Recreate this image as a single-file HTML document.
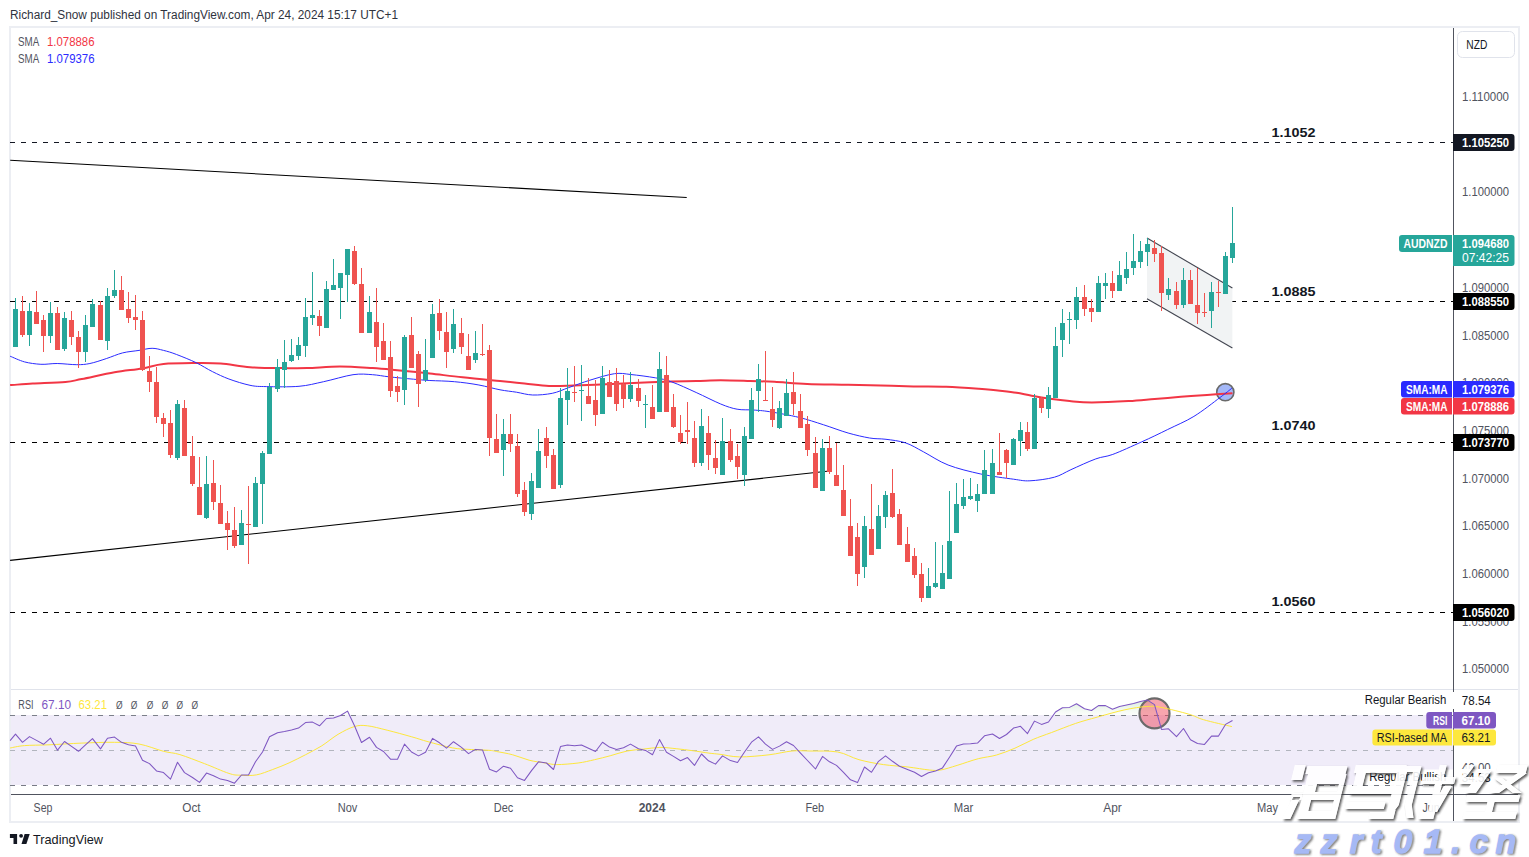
<!DOCTYPE html><html><head><meta charset="utf-8"><style>html,body{margin:0;padding:0;background:#fff;}body{width:1529px;height:857px;overflow:hidden;position:relative;}svg{position:absolute;left:0;top:0;} text{font-family:"Liberation Sans", sans-serif;}</style></head><body><svg width="1529" height="857" viewBox="0 0 1529 857"><text x="10" y="19" font-size="12" fill="#2f333e" textLength="388" lengthAdjust="spacingAndGlyphs">Richard_Snow published on TradingView.com, Apr 24, 2024 15:17 UTC+1</text><rect x="10" y="27" width="1509" height="795" fill="none" stroke="#eceef3" stroke-width="2"/><rect x="11" y="715" width="1442" height="70" fill="#f0ecf9"/><rect x="11" y="689" width="1507" height="1" fill="#e0e3eb"/><line x1="10" y1="142.5" x2="1453" y2="142.5" stroke="#131722" stroke-width="1" stroke-dasharray="5 6" shape-rendering="crispEdges"/><line x1="10" y1="301.5" x2="1453" y2="301.5" stroke="#000" stroke-width="1" stroke-dasharray="5 6" shape-rendering="crispEdges"/><line x1="10" y1="442.5" x2="1453" y2="442.5" stroke="#000" stroke-width="1" stroke-dasharray="5 6" shape-rendering="crispEdges"/><line x1="10" y1="612.5" x2="1453" y2="612.5" stroke="#000" stroke-width="1" stroke-dasharray="5 6" shape-rendering="crispEdges"/><line x1="10.2" y1="160.3" x2="686.7" y2="197.5" stroke="#000" stroke-width="1.1"/><line x1="10.1" y1="560.4" x2="827.1" y2="471.2" stroke="#000" stroke-width="1.1"/><path d="M1147,238.1 L1232.4,287.9 L1232.4,348.1 L1147,298.8 Z" fill="#f1f3f4"/><circle cx="1225.3" cy="392.2" r="8.6" fill="rgba(53,97,239,0.45)" stroke="#6a6a6a" stroke-width="1.6"/><path d="M10.1,385.1 C13.9,384.9 23.5,384.1 32.7,383.6 C41.9,383.1 57.2,382.8 65.4,382.0 C73.6,381.2 73.6,380.6 81.8,379.0 C90.0,377.4 104.4,374.0 114.5,372.2 C124.6,370.4 134.0,369.8 142.2,368.4 C150.4,367.0 154.5,364.9 163.5,364.0 C172.5,363.1 186.7,363.1 196.2,363.0 C205.7,362.9 211.7,362.8 220.7,363.5 C229.7,364.2 239.7,366.4 250.0,367.2 C260.3,368.0 273.2,368.0 282.7,368.1 C292.2,368.2 297.7,368.4 307.2,368.1 C316.7,367.8 329.0,366.5 339.9,366.5 C350.8,366.5 363.1,367.5 372.6,368.1 C382.2,368.7 387.6,369.3 397.2,370.2 C406.8,371.1 419.0,372.3 429.9,373.5 C440.8,374.7 450.9,376.1 462.6,377.3 C474.3,378.6 489.7,380.0 500.0,381.0 C510.3,382.0 516.3,382.7 524.5,383.5 C532.7,384.3 540.8,385.6 549.0,386.0 C557.2,386.4 564.1,385.9 573.6,385.6 C583.1,385.3 595.4,384.8 606.3,384.3 C617.2,383.8 628.1,383.2 639.0,382.7 C649.9,382.2 662.2,381.7 671.7,381.4 C681.2,381.1 688.0,381.3 696.2,381.1 C704.4,380.9 711.7,380.2 720.7,380.2 C729.7,380.2 741.0,380.7 750.0,381.0 C759.0,381.3 765.0,381.3 774.5,381.8 C784.0,382.3 794.9,383.4 807.2,383.9 C819.5,384.4 835.8,384.4 848.1,384.7 C860.4,385.0 869.9,385.2 880.8,385.5 C891.7,385.8 902.6,386.2 913.5,386.4 C924.4,386.6 935.3,386.3 946.2,386.7 C957.1,387.1 969.9,388.1 978.9,388.8 C987.9,389.5 993.7,390.0 1000.0,390.7 C1006.3,391.4 1011.3,391.9 1016.6,392.8 C1021.9,393.7 1026.1,394.8 1031.7,395.8 C1037.3,396.8 1043.7,397.9 1050.0,398.8 C1056.3,399.7 1062.6,400.5 1069.6,401.1 C1076.6,401.7 1082.1,402.4 1091.9,402.4 C1101.7,402.4 1118.0,401.7 1128.5,401.1 C1139.0,400.5 1145.9,399.7 1154.6,399.0 C1163.3,398.3 1172.1,397.5 1180.8,396.8 C1189.5,396.1 1198.4,395.5 1207.0,394.9 C1215.6,394.3 1228.2,393.6 1232.5,393.3" fill="none" stroke="#f23645" stroke-width="2" stroke-linejoin="round"/><path d="M10.1,356.2 C12.5,357.1 19.4,360.5 24.5,361.9 C29.6,363.2 35.4,364.0 40.9,364.3 C46.4,364.6 51.2,363.4 57.2,363.5 C63.2,363.6 71.3,364.7 76.8,364.7 C82.2,364.7 85.0,364.5 89.9,363.5 C94.8,362.5 100.8,360.4 106.3,358.6 C111.8,356.8 117.1,354.3 122.6,352.9 C128.0,351.5 134.1,351.2 139.0,350.4 C143.9,349.6 148.0,348.3 152.1,348.3 C156.2,348.3 159.4,349.4 163.5,350.4 C167.6,351.4 171.2,352.4 176.6,354.5 C182.0,356.6 190.2,359.8 196.2,362.7 C202.2,365.6 207.1,369.0 212.6,371.7 C218.1,374.4 222.7,376.7 228.9,379.0 C235.1,381.3 243.8,384.0 250.0,385.3 C256.2,386.6 258.2,386.4 266.4,386.6 C274.6,386.8 289.5,387.1 299.0,386.3 C308.5,385.5 314.6,383.6 323.6,381.7 C332.6,379.8 344.8,375.9 353.0,374.7 C361.2,373.5 366.6,374.3 372.6,374.7 C378.6,375.1 382.2,376.1 389.0,376.8 C395.8,377.6 406.7,378.6 413.5,379.2 C420.3,379.8 423.1,380.1 429.9,380.5 C436.7,380.9 446.2,380.9 454.4,381.7 C462.6,382.4 471.3,383.6 478.9,385.0 C486.5,386.4 493.8,388.6 500.0,389.8 C506.2,391.0 510.9,391.3 516.4,392.2 C521.9,393.1 526.7,394.8 532.7,395.0 C538.7,395.2 546.3,394.5 552.3,393.3 C558.3,392.1 562.4,389.8 568.7,387.6 C575.0,385.4 582.3,382.5 589.9,380.2 C597.5,377.9 607.7,374.6 614.5,373.7 C621.3,372.8 624.0,373.8 630.8,374.5 C637.6,375.2 648.5,376.6 655.3,377.8 C662.1,379.0 664.9,379.4 671.7,381.9 C678.5,384.3 688.0,388.8 696.2,392.5 C704.4,396.2 713.9,401.2 720.7,404.0 C727.5,406.8 731.7,408.2 737.1,409.2 C742.5,410.2 747.9,409.6 753.3,410.0 C758.7,410.4 762.0,410.5 769.6,411.7 C777.2,412.9 790.0,415.2 799.0,417.4 C808.0,419.6 815.4,422.2 823.6,424.8 C831.8,427.4 840.4,430.8 848.1,433.0 C855.8,435.2 863.3,436.9 869.6,438.0 C875.9,439.1 880.0,438.5 886.0,439.3 C892.0,440.1 899.3,440.8 905.6,442.9 C911.9,445.0 916.5,448.2 923.6,451.9 C930.7,455.6 938.6,461.3 948.1,465.0 C957.6,468.7 969.9,471.6 980.8,474.0 C991.7,476.4 1005.3,478.1 1013.5,479.2 C1021.7,480.3 1023.1,481.1 1029.9,480.8 C1036.7,480.5 1047.6,479.1 1054.4,477.2 C1061.2,475.3 1064.0,472.8 1070.9,469.7 C1077.8,466.6 1088.8,461.4 1095.8,458.9 C1102.8,456.3 1105.2,457.2 1112.8,454.4 C1120.4,451.6 1132.4,446.0 1141.6,441.9 C1150.8,437.8 1159.0,433.8 1167.7,429.5 C1176.4,425.2 1185.2,421.7 1193.9,416.4 C1202.6,411.1 1213.7,402.2 1220.0,397.5 C1226.3,392.8 1229.8,389.8 1231.8,388.3" fill="none" stroke="#2b2bff" stroke-width="1" stroke-linejoin="round"/><line x1="1147" y1="238.1" x2="1232.4" y2="287.9" stroke="#434651" stroke-width="1.1"/><line x1="1147" y1="298.8" x2="1232.4" y2="348.1" stroke="#434651" stroke-width="1.1"/><path fill="#26a69a" d="M15,298h1v11h-1zM13,309h5v38h-5zM29,303h1v8h-1zM29,335h1v11h-1zM27,311h5v24h-5zM50,302h1v11h-1zM50,336h1v7h-1zM48,313h5v23h-5zM64,312h1v6h-1zM64,349h1v2h-1zM62,318h5v31h-5zM85,315h1v10h-1zM85,352h1v10h-1zM83,325h5v27h-5zM92,299h1v5h-1zM90,304h5v23h-5zM107,288h1v8h-1zM107,341h1v9h-1zM105,296h5v45h-5zM114,270h1v20h-1zM114,296h1v2h-1zM112,290h5v6h-5zM177,400h1v4h-1zM177,458h1v2h-1zM175,404h5v54h-5zM206,456h1v28h-1zM206,518h1v1h-1zM204,484h5v34h-5zM241,510h1v13h-1zM239,523h5v22h-5zM255,477h1v6h-1zM253,483h5v44h-5zM262,451h1v2h-1zM262,484h1v40h-1zM260,453h5v31h-5zM269,383h1v4h-1zM267,387h5v67h-5zM277,359h1v8h-1zM277,389h1v3h-1zM275,367h5v22h-5zM284,340h1v22h-1zM284,370h1v18h-1zM282,362h5v8h-5zM291,339h1v16h-1zM291,361h1v1h-1zM289,355h5v6h-5zM298,337h1v8h-1zM298,356h1v4h-1zM296,345h5v11h-5zM305,298h1v19h-1zM305,346h1v11h-1zM303,317h5v29h-5zM312,272h1v43h-1zM312,318h1v7h-1zM310,315h5v3h-5zM326,281h1v8h-1zM324,289h5v39h-5zM333,259h1v26h-1zM331,285h5v5h-5zM340,288h1v31h-1zM338,273h5v15h-5zM347,275h1v27h-1zM345,249h5v26h-5zM369,296h1v16h-1zM367,312h5v21h-5zM404,335h1v2h-1zM404,390h1v15h-1zM402,337h5v53h-5zM425,339h1v31h-1zM425,380h1v2h-1zM423,370h5v10h-5zM432,304h1v10h-1zM430,314h5v44h-5zM453,309h1v15h-1zM453,349h1v4h-1zM451,324h5v25h-5zM475,331h1v22h-1zM475,360h1v3h-1zM473,353h5v7h-5zM503,419h1v15h-1zM503,450h1v26h-1zM501,434h5v16h-5zM531,473h1v8h-1zM531,514h1v6h-1zM529,481h5v33h-5zM538,429h1v22h-1zM536,451h5v37h-5zM560,388h1v10h-1zM560,485h1v3h-1zM558,398h5v87h-5zM567,368h1v23h-1zM567,400h1v25h-1zM565,391h5v9h-5zM581,365h1v25h-1zM581,391h1v30h-1zM579,390h5v1h-5zM602,366h1v12h-1zM600,378h5v36h-5zM630,372h1v13h-1zM630,399h1v3h-1zM628,385h5v14h-5zM645,395h1v9h-1zM645,405h1v23h-1zM643,404h5v1h-5zM659,352h1v17h-1zM657,369h5v43h-5zM701,409h1v17h-1zM701,463h1v3h-1zM699,426h5v37h-5zM722,418h1v23h-1zM720,441h5v34h-5zM744,427h1v9h-1zM744,475h1v11h-1zM742,436h5v39h-5zM751,388h1v12h-1zM749,400h5v39h-5zM758,364h1v15h-1zM758,391h1v21h-1zM756,379h5v12h-5zM779,401h1v7h-1zM779,428h1v1h-1zM777,408h5v20h-5zM786,379h1v14h-1zM784,393h5v23h-5zM822,439h1v9h-1zM820,448h5v43h-5zM864,516h1v10h-1zM864,567h1v11h-1zM862,526h5v41h-5zM878,505h1v11h-1zM876,516h5v33h-5zM885,491h1v4h-1zM885,517h1v11h-1zM883,495h5v22h-5zM928,568h1v18h-1zM926,586h5v12h-5zM935,542h1v41h-1zM935,587h1v1h-1zM933,583h5v4h-5zM942,545h1v28h-1zM940,573h5v16h-5zM949,491h1v50h-1zM947,541h5v38h-5zM956,483h1v21h-1zM954,504h5v29h-5zM963,479h1v18h-1zM963,506h1v3h-1zM961,497h5v9h-5zM970,478h1v18h-1zM970,499h1v1h-1zM968,496h5v3h-5zM977,484h1v10h-1zM977,501h1v11h-1zM975,494h5v7h-5zM984,450h1v20h-1zM982,470h5v24h-5zM992,449h1v14h-1zM990,463h5v31h-5zM1013,438h1v1h-1zM1011,439h5v26h-5zM1020,422h1v8h-1zM1020,441h1v15h-1zM1018,430h5v11h-5zM1034,394h1v4h-1zM1032,398h5v51h-5zM1048,387h1v8h-1zM1048,409h1v9h-1zM1046,395h5v14h-5zM1055,327h1v19h-1zM1053,346h5v52h-5zM1062,309h1v14h-1zM1062,340h1v17h-1zM1060,323h5v17h-5zM1069,312h1v7h-1zM1069,320h1v24h-1zM1067,319h5v1h-5zM1076,287h1v10h-1zM1076,320h1v9h-1zM1074,297h5v23h-5zM1098,276h1v7h-1zM1096,283h5v29h-5zM1105,273h1v10h-1zM1105,286h1v13h-1zM1103,283h5v3h-5zM1119,261h1v14h-1zM1117,275h5v16h-5zM1126,252h1v17h-1zM1126,278h1v6h-1zM1124,269h5v9h-5zM1133,234h1v27h-1zM1133,268h1v7h-1zM1131,261h5v7h-5zM1140,241h1v10h-1zM1140,262h1v6h-1zM1138,251h5v11h-5zM1147,238h1v6h-1zM1147,252h1v14h-1zM1145,244h5v8h-5zM1168,278h1v11h-1zM1168,295h1v5h-1zM1166,289h5v6h-5zM1183,268h1v12h-1zM1183,305h1v3h-1zM1181,280h5v25h-5zM1211,282h1v10h-1zM1211,311h1v17h-1zM1209,292h5v19h-5zM1225,252h1v4h-1zM1223,256h5v38h-5zM1232,207h1v36h-1zM1232,258h1v5h-1zM1230,243h5v15h-5z"/><path fill="#ef5350" d="M22,296h1v15h-1zM22,335h1v2h-1zM20,311h5v24h-5zM36,291h1v21h-1zM34,312h5v12h-5zM43,315h1v5h-1zM43,336h1v16h-1zM41,320h5v16h-5zM57,307h1v6h-1zM55,313h5v37h-5zM71,311h1v9h-1zM71,337h1v8h-1zM69,320h5v17h-5zM78,331h1v6h-1zM78,352h1v16h-1zM76,337h5v15h-5zM100,301h1v4h-1zM98,305h5v35h-5zM121,276h1v14h-1zM119,290h5v20h-5zM128,292h1v17h-1zM128,318h1v5h-1zM126,309h5v9h-5zM135,295h1v22h-1zM135,320h1v10h-1zM133,317h5v3h-5zM142,311h1v9h-1zM142,370h1v1h-1zM140,320h5v50h-5zM149,356h1v15h-1zM149,382h1v10h-1zM147,371h5v11h-5zM156,367h1v15h-1zM156,417h1v6h-1zM154,382h5v35h-5zM163,413h1v5h-1zM163,424h1v13h-1zM161,418h5v6h-5zM170,410h1v13h-1zM170,455h1v3h-1zM168,423h5v32h-5zM184,400h1v8h-1zM182,408h5v48h-5zM192,436h1v20h-1zM192,484h1v2h-1zM190,456h5v28h-5zM199,457h1v30h-1zM197,487h5v28h-5zM213,460h1v23h-1zM213,502h1v8h-1zM211,483h5v19h-5zM220,485h1v18h-1zM218,503h5v21h-5zM227,511h1v12h-1zM227,530h1v20h-1zM225,523h5v7h-5zM234,507h1v23h-1zM234,546h1v2h-1zM232,530h5v16h-5zM248,486h1v38h-1zM248,525h1v39h-1zM246,524h5v1h-5zM319,310h1v6h-1zM319,326h1v10h-1zM317,316h5v10h-5zM354,246h1v5h-1zM354,284h1v1h-1zM352,251h5v33h-5zM361,268h1v16h-1zM359,284h5v49h-5zM376,288h1v34h-1zM376,347h1v15h-1zM374,322h5v25h-5zM383,323h1v18h-1zM381,341h5v19h-5zM390,341h1v16h-1zM390,391h1v6h-1zM388,357h5v34h-5zM397,376h1v10h-1zM397,392h1v10h-1zM395,386h5v6h-5zM411,317h1v18h-1zM409,335h5v33h-5zM418,351h1v3h-1zM418,384h1v23h-1zM416,354h5v30h-5zM439,299h1v14h-1zM439,331h1v9h-1zM437,313h5v18h-5zM446,312h1v20h-1zM446,352h1v16h-1zM444,332h5v20h-5zM461,318h1v15h-1zM461,347h1v7h-1zM459,333h5v14h-5zM468,334h1v22h-1zM466,356h5v14h-5zM482,324h1v30h-1zM482,355h1v1h-1zM480,354h5v1h-5zM489,345h1v5h-1zM489,438h1v18h-1zM487,350h5v88h-5zM496,414h1v25h-1zM494,439h5v14h-5zM510,414h1v20h-1zM510,444h1v8h-1zM508,434h5v10h-5zM517,434h1v12h-1zM517,494h1v3h-1zM515,446h5v48h-5zM524,482h1v8h-1zM524,512h1v4h-1zM522,490h5v22h-5zM546,427h1v11h-1zM546,456h1v12h-1zM544,438h5v18h-5zM553,449h1v6h-1zM551,455h5v34h-5zM574,366h1v26h-1zM574,393h1v9h-1zM572,392h5v1h-5zM588,378h1v18h-1zM586,396h5v8h-5zM595,380h1v20h-1zM595,415h1v11h-1zM593,400h5v15h-5zM609,370h1v12h-1zM607,382h5v15h-5zM616,368h1v13h-1zM616,404h1v7h-1zM614,381h5v23h-5zM623,375h1v9h-1zM623,399h1v9h-1zM621,384h5v15h-5zM638,379h1v9h-1zM638,401h1v6h-1zM636,388h5v13h-5zM652,385h1v22h-1zM650,407h5v12h-5zM666,356h1v19h-1zM664,375h5v37h-5zM673,394h1v13h-1zM673,427h1v1h-1zM671,407h5v20h-5zM680,415h1v18h-1zM680,442h1v2h-1zM678,433h5v9h-5zM687,402h1v28h-1zM687,432h1v12h-1zM685,430h5v2h-5zM694,421h1v17h-1zM694,463h1v4h-1zM692,438h5v25h-5zM708,416h1v17h-1zM708,455h1v15h-1zM706,433h5v22h-5zM715,440h1v18h-1zM715,468h1v6h-1zM713,458h5v10h-5zM730,429h1v12h-1zM730,460h1v2h-1zM728,441h5v19h-5zM737,444h1v12h-1zM737,467h1v12h-1zM735,456h5v11h-5zM765,351h1v49h-1zM763,400h5v1h-5zM772,387h1v22h-1zM772,420h1v7h-1zM770,409h5v11h-5zM793,372h1v20h-1zM793,404h1v11h-1zM791,392h5v12h-5zM800,394h1v17h-1zM798,411h5v17h-5zM807,416h1v8h-1zM807,450h1v6h-1zM805,424h5v26h-5zM815,437h1v16h-1zM813,453h5v35h-5zM829,436h1v12h-1zM829,472h1v2h-1zM827,448h5v24h-5zM836,443h1v32h-1zM834,475h5v11h-5zM843,465h1v25h-1zM841,490h5v26h-5zM850,499h1v27h-1zM848,526h5v30h-5zM857,523h1v14h-1zM857,574h1v12h-1zM855,537h5v37h-5zM871,484h1v45h-1zM869,529h5v26h-5zM892,469h1v24h-1zM892,517h1v1h-1zM890,493h5v24h-5zM899,509h1v5h-1zM897,514h5v31h-5zM907,527h1v17h-1zM905,544h5v18h-5zM914,548h1v8h-1zM914,575h1v3h-1zM912,556h5v19h-5zM921,563h1v11h-1zM921,598h1v4h-1zM919,574h5v24h-5zM999,433h1v39h-1zM997,472h5v3h-5zM1006,449h1v1h-1zM1006,463h1v15h-1zM1004,450h5v13h-5zM1027,422h1v10h-1zM1027,449h1v2h-1zM1025,432h5v17h-5zM1041,397h1v1h-1zM1041,408h1v5h-1zM1039,398h5v10h-5zM1084,285h1v12h-1zM1084,309h1v7h-1zM1082,297h5v12h-5zM1091,299h1v9h-1zM1091,312h1v10h-1zM1089,308h5v4h-5zM1112,271h1v12h-1zM1112,291h1v7h-1zM1110,283h5v8h-5zM1154,240h1v8h-1zM1154,254h1v8h-1zM1152,248h5v6h-5zM1161,246h1v7h-1zM1161,293h1v18h-1zM1159,253h5v40h-5zM1176,282h1v9h-1zM1176,305h1v4h-1zM1174,291h5v14h-5zM1190,270h1v10h-1zM1188,280h5v24h-5zM1197,268h1v37h-1zM1197,313h1v11h-1zM1195,305h5v8h-5zM1204,293h1v19h-1zM1204,313h1v4h-1zM1202,312h5v1h-5zM1218,281h1v11h-1zM1218,293h1v14h-1zM1216,292h5v1h-5z"/><text x="1271.5" y="137" font-size="13.5" font-weight="bold" fill="#131722" textLength="44" lengthAdjust="spacingAndGlyphs">1.1052</text><text x="1271.5" y="296" font-size="13.5" font-weight="bold" fill="#131722" textLength="44" lengthAdjust="spacingAndGlyphs">1.0885</text><text x="1271.5" y="430" font-size="13.5" font-weight="bold" fill="#131722" textLength="44" lengthAdjust="spacingAndGlyphs">1.0740</text><text x="1271.5" y="606" font-size="13.5" font-weight="bold" fill="#131722" textLength="44" lengthAdjust="spacingAndGlyphs">1.0560</text><text x="18" y="46" font-size="12.5" fill="#50535e" textLength="21.2" lengthAdjust="spacingAndGlyphs">SMA</text><text x="47" y="46" font-size="12.5" fill="#f23645" textLength="47.5" lengthAdjust="spacingAndGlyphs">1.078886</text><text x="18" y="62.5" font-size="12.5" fill="#50535e" textLength="21.2" lengthAdjust="spacingAndGlyphs">SMA</text><text x="47" y="62.5" font-size="12.5" fill="#2b2bff" textLength="47.5" lengthAdjust="spacingAndGlyphs">1.079376</text><line x1="10" y1="715.5" x2="1453" y2="715.5" stroke="#787b86" stroke-width="1" stroke-dasharray="5 6"/><line x1="10" y1="750.5" x2="1453" y2="750.5" stroke="#b2b5be" stroke-width="1" stroke-dasharray="5 6"/><line x1="10" y1="785.5" x2="1453" y2="785.5" stroke="#787b86" stroke-width="1" stroke-dasharray="5 6"/><defs><linearGradient id="obg" gradientUnits="userSpaceOnUse" x1="0" y1="700" x2="0" y2="715.5"><stop offset="0" stop-color="#c8e6c9" stop-opacity="0.75"/><stop offset="1" stop-color="#e8f5e9" stop-opacity="0.15"/></linearGradient><clipPath id="obc"><rect x="11" y="695" width="1442" height="20.5"/></clipPath></defs><path d="M10.1,740.7 L15.5,734.1 L22.5,742.3 L29.5,736.6 L36.5,740.4 L43.5,744.3 L50.5,738.2 L57.5,750.2 L64.5,741.5 L71.5,746.4 L78.5,751.3 L85.5,744.8 L92.5,738.6 L100.5,748.9 L107.5,738.2 L114.5,737.1 L121.5,742.3 L128.5,744.8 L135.5,745.9 L142.5,760.3 L149.5,763.6 L156.5,770.9 L163.5,772.6 L170.5,779.1 L177.5,762.3 L184.5,772.6 L192.5,777.5 L199.5,782.4 L206.5,773.1 L213.5,775.8 L220.5,779.1 L227.5,780.4 L234.5,783.2 L241.5,775.0 L248.5,775.0 L255.5,761.8 L262.5,752.0 L269.5,736.8 L277.5,732.7 L284.5,731.4 L291.5,729.9 L298.5,728.1 L305.5,722.6 L312.5,722.1 L319.5,725.8 L326.5,718.5 L333.5,718.0 L340.5,715.5 L347.5,711.1 L354.5,725.8 L361.5,742.5 L369.5,737.3 L376.5,747.4 L383.5,751.5 L390.5,759.2 L397.5,759.2 L404.5,744.1 L411.5,752.0 L418.5,755.9 L425.5,752.3 L432.5,738.4 L439.5,742.8 L446.5,748.2 L453.5,741.7 L461.5,747.4 L468.5,753.6 L475.5,749.4 L482.5,749.9 L489.5,769.2 L496.5,771.9 L503.5,766.2 L510.5,768.3 L517.5,777.7 L524.5,780.4 L531.5,770.6 L538.5,761.8 L546.5,763.0 L553.5,769.5 L560.5,746.6 L567.5,745.0 L574.5,745.8 L581.5,745.0 L588.5,748.2 L595.5,751.5 L602.5,742.2 L609.5,747.1 L616.5,749.4 L623.5,747.7 L630.5,744.1 L638.5,748.7 L645.5,750.4 L652.5,754.8 L659.5,739.6 L666.5,752.3 L673.5,756.4 L680.5,760.8 L687.5,757.6 L694.5,765.4 L701.5,754.0 L708.5,760.8 L715.5,764.1 L722.5,755.9 L730.5,760.6 L737.5,762.5 L744.5,752.0 L751.5,742.2 L758.5,736.8 L765.5,744.1 L772.5,749.4 L779.5,746.1 L786.5,741.7 L793.5,745.5 L800.5,753.1 L807.5,760.5 L815.5,769.0 L822.5,756.4 L829.5,761.8 L836.5,765.4 L843.5,772.3 L850.5,779.8 L857.5,782.6 L864.5,767.0 L871.5,772.3 L878.5,761.3 L885.5,755.9 L892.5,761.3 L899.5,766.2 L907.5,769.5 L914.5,772.3 L921.5,776.5 L928.5,772.8 L935.5,771.1 L942.5,767.9 L949.5,757.2 L956.5,746.1 L963.5,744.1 L970.5,743.8 L977.5,743.1 L984.5,735.8 L992.5,734.0 L999.5,738.5 L1006.5,734.5 L1013.5,728.1 L1020.5,726.3 L1027.5,733.6 L1034.5,721.1 L1041.5,724.4 L1048.5,722.0 L1055.5,712.0 L1062.5,707.8 L1069.5,707.4 L1076.5,703.7 L1084.5,708.7 L1091.5,710.5 L1098.5,705.6 L1105.5,705.6 L1112.5,709.2 L1119.5,706.5 L1126.5,705.0 L1133.5,703.4 L1140.5,701.4 L1147.5,700.1 L1154.5,704.6 L1161.5,729.4 L1168.5,728.8 L1176.5,736.7 L1183.5,728.5 L1190.5,739.8 L1197.5,743.5 L1204.5,744.4 L1211.5,736.1 L1218.5,736.1 L1225.5,724.4 L1232.5,720.5 L1232.6,715.5 L10.1,715.5 Z" fill="url(#obg)" clip-path="url(#obc)"/><circle cx="1154.5" cy="713.4" r="15" fill="rgba(237,55,75,0.45)" stroke="#6a6a6a" stroke-width="2.2"/><path d="M10.1,748.0 C12.5,747.6 18.0,746.1 24.5,745.6 C31.0,745.1 39.5,745.2 49.0,744.8 C58.5,744.4 70.9,743.5 81.8,743.1 C92.7,742.7 105.0,742.1 114.5,742.3 C124.0,742.4 130.8,742.5 139.0,744.0 C147.2,745.5 156.7,749.5 163.5,751.3 C170.3,753.1 173.1,752.5 179.9,754.6 C186.7,756.7 196.2,760.5 204.4,763.6 C212.6,766.7 223.0,771.5 228.9,773.4 C234.8,775.3 235.4,775.0 240.0,775.2 C244.6,775.5 250.9,775.9 256.4,774.9 C261.8,773.9 267.2,771.5 272.7,769.5 C278.1,767.5 283.7,765.4 289.1,762.9 C294.6,760.4 299.9,757.6 305.4,754.8 C310.8,751.9 316.4,749.2 321.8,745.8 C327.2,742.4 332.7,737.5 338.1,734.3 C343.6,731.1 349.6,727.9 354.5,726.5 C359.4,725.1 362.1,725.2 367.5,725.8 C372.9,726.4 379.8,728.4 387.2,730.2 C394.6,732.0 404.9,734.9 411.7,736.8 C418.5,738.7 421.2,739.9 428.0,741.7 C434.8,743.6 445.8,746.6 452.6,747.9 C459.4,749.2 462.7,749.0 468.9,749.4 C475.1,749.8 485.4,750.0 490.0,750.4 C494.6,750.8 492.6,750.8 496.4,751.5 C500.2,752.2 507.3,753.3 512.7,754.8 C518.2,756.2 523.7,758.8 529.1,760.2 C534.5,761.6 540.8,762.3 545.4,763.0 C550.0,763.7 551.3,764.6 556.8,764.6 C562.2,764.6 571.8,763.8 578.1,763.0 C584.4,762.2 589.0,760.9 594.5,759.7 C600.0,758.5 605.3,757.1 610.8,755.6 C616.2,754.1 621.8,752.1 627.2,751.0 C632.7,749.9 638.0,749.7 643.5,749.1 C649.0,748.5 654.4,747.5 659.9,747.4 C665.4,747.3 670.8,748.2 676.2,748.7 C681.7,749.2 687.2,750.0 692.6,750.7 C698.0,751.4 704.3,752.5 708.9,753.1 C713.5,753.7 714.9,753.7 720.0,754.3 C725.1,754.9 731.4,756.8 739.6,756.9 C747.8,757.0 760.3,755.8 769.0,754.8 C777.7,753.8 785.1,751.6 791.9,751.0 C798.7,750.4 802.3,750.8 809.9,751.0 C817.5,751.2 829.5,750.5 837.7,752.0 C845.9,753.5 851.4,757.6 859.0,759.7 C866.6,761.8 875.3,763.4 883.5,764.6 C891.7,765.8 900.4,766.1 908.0,767.0 C915.6,767.9 923.8,769.5 929.3,770.0 C934.8,770.5 936.1,770.8 940.7,770.0 C945.3,769.2 950.8,767.3 957.1,765.4 C963.4,763.5 971.7,760.4 978.3,758.7 C984.9,757.0 990.5,756.8 996.6,755.0 C1002.7,753.2 1008.8,750.8 1014.9,748.2 C1021.0,745.6 1027.1,742.0 1033.2,739.4 C1039.3,736.8 1044.6,735.1 1051.6,732.5 C1058.6,729.9 1067.8,726.1 1075.4,723.5 C1083.0,720.9 1089.1,719.4 1097.3,717.1 C1105.5,714.8 1116.5,711.6 1124.8,709.8 C1133.0,708.0 1140.7,706.9 1146.8,706.5 C1152.9,706.1 1154.4,706.1 1161.4,707.4 C1168.4,708.7 1181.9,712.2 1188.9,714.2 C1195.9,716.2 1196.3,717.6 1203.5,719.7 C1210.7,721.8 1227.2,725.5 1231.9,726.6" fill="none" stroke="#fde73d" stroke-width="1" stroke-linejoin="round"/><path d="M10.1,740.7 L15.5,734.1 L22.5,742.3 L29.5,736.6 L36.5,740.4 L43.5,744.3 L50.5,738.2 L57.5,750.2 L64.5,741.5 L71.5,746.4 L78.5,751.3 L85.5,744.8 L92.5,738.6 L100.5,748.9 L107.5,738.2 L114.5,737.1 L121.5,742.3 L128.5,744.8 L135.5,745.9 L142.5,760.3 L149.5,763.6 L156.5,770.9 L163.5,772.6 L170.5,779.1 L177.5,762.3 L184.5,772.6 L192.5,777.5 L199.5,782.4 L206.5,773.1 L213.5,775.8 L220.5,779.1 L227.5,780.4 L234.5,783.2 L241.5,775.0 L248.5,775.0 L255.5,761.8 L262.5,752.0 L269.5,736.8 L277.5,732.7 L284.5,731.4 L291.5,729.9 L298.5,728.1 L305.5,722.6 L312.5,722.1 L319.5,725.8 L326.5,718.5 L333.5,718.0 L340.5,715.5 L347.5,711.1 L354.5,725.8 L361.5,742.5 L369.5,737.3 L376.5,747.4 L383.5,751.5 L390.5,759.2 L397.5,759.2 L404.5,744.1 L411.5,752.0 L418.5,755.9 L425.5,752.3 L432.5,738.4 L439.5,742.8 L446.5,748.2 L453.5,741.7 L461.5,747.4 L468.5,753.6 L475.5,749.4 L482.5,749.9 L489.5,769.2 L496.5,771.9 L503.5,766.2 L510.5,768.3 L517.5,777.7 L524.5,780.4 L531.5,770.6 L538.5,761.8 L546.5,763.0 L553.5,769.5 L560.5,746.6 L567.5,745.0 L574.5,745.8 L581.5,745.0 L588.5,748.2 L595.5,751.5 L602.5,742.2 L609.5,747.1 L616.5,749.4 L623.5,747.7 L630.5,744.1 L638.5,748.7 L645.5,750.4 L652.5,754.8 L659.5,739.6 L666.5,752.3 L673.5,756.4 L680.5,760.8 L687.5,757.6 L694.5,765.4 L701.5,754.0 L708.5,760.8 L715.5,764.1 L722.5,755.9 L730.5,760.6 L737.5,762.5 L744.5,752.0 L751.5,742.2 L758.5,736.8 L765.5,744.1 L772.5,749.4 L779.5,746.1 L786.5,741.7 L793.5,745.5 L800.5,753.1 L807.5,760.5 L815.5,769.0 L822.5,756.4 L829.5,761.8 L836.5,765.4 L843.5,772.3 L850.5,779.8 L857.5,782.6 L864.5,767.0 L871.5,772.3 L878.5,761.3 L885.5,755.9 L892.5,761.3 L899.5,766.2 L907.5,769.5 L914.5,772.3 L921.5,776.5 L928.5,772.8 L935.5,771.1 L942.5,767.9 L949.5,757.2 L956.5,746.1 L963.5,744.1 L970.5,743.8 L977.5,743.1 L984.5,735.8 L992.5,734.0 L999.5,738.5 L1006.5,734.5 L1013.5,728.1 L1020.5,726.3 L1027.5,733.6 L1034.5,721.1 L1041.5,724.4 L1048.5,722.0 L1055.5,712.0 L1062.5,707.8 L1069.5,707.4 L1076.5,703.7 L1084.5,708.7 L1091.5,710.5 L1098.5,705.6 L1105.5,705.6 L1112.5,709.2 L1119.5,706.5 L1126.5,705.0 L1133.5,703.4 L1140.5,701.4 L1147.5,700.1 L1154.5,704.6 L1161.5,729.4 L1168.5,728.8 L1176.5,736.7 L1183.5,728.5 L1190.5,739.8 L1197.5,743.5 L1204.5,744.4 L1211.5,736.1 L1218.5,736.1 L1225.5,724.4 L1232.5,720.5" fill="none" stroke="#7e57c2" stroke-width="1.05" stroke-linejoin="round"/><text x="18.3" y="709" font-size="12.5" fill="#50535e" textLength="15.2" lengthAdjust="spacingAndGlyphs">RSI</text><text x="41.5" y="709" font-size="12.5" fill="#7e57c2" textLength="29.5" lengthAdjust="spacingAndGlyphs">67.10</text><text x="78.5" y="709" font-size="12.5" fill="#fde73d" textLength="28.5" lengthAdjust="spacingAndGlyphs">63.21</text><text x="116.10000000000001" y="709" font-size="11.5" fill="#50535e" textLength="6.6" lengthAdjust="spacingAndGlyphs">&#216;</text><text x="130.79999999999998" y="709" font-size="11.5" fill="#50535e" textLength="6.6" lengthAdjust="spacingAndGlyphs">&#216;</text><text x="146.79999999999998" y="709" font-size="11.5" fill="#50535e" textLength="6.6" lengthAdjust="spacingAndGlyphs">&#216;</text><text x="161.79999999999998" y="709" font-size="11.5" fill="#50535e" textLength="6.6" lengthAdjust="spacingAndGlyphs">&#216;</text><text x="176.6" y="709" font-size="11.5" fill="#50535e" textLength="6.6" lengthAdjust="spacingAndGlyphs">&#216;</text><text x="191.6" y="709" font-size="11.5" fill="#50535e" textLength="6.6" lengthAdjust="spacingAndGlyphs">&#216;</text><rect x="11" y="794" width="1507" height="1" fill="#50535e"/><rect x="1453" y="28" width="1" height="793" fill="#50535e"/><text x="1509" y="101.0" font-size="12.5" fill="#50535e" text-anchor="end" textLength="47" lengthAdjust="spacingAndGlyphs">1.110000</text><text x="1509" y="196.4" font-size="12.5" fill="#50535e" text-anchor="end" textLength="47" lengthAdjust="spacingAndGlyphs">1.100000</text><text x="1509" y="291.8" font-size="12.5" fill="#50535e" text-anchor="end" textLength="47" lengthAdjust="spacingAndGlyphs">1.090000</text><text x="1509" y="339.5" font-size="12.5" fill="#50535e" text-anchor="end" textLength="47" lengthAdjust="spacingAndGlyphs">1.085000</text><text x="1509" y="387.2" font-size="12.5" fill="#50535e" text-anchor="end" textLength="47" lengthAdjust="spacingAndGlyphs">1.080000</text><text x="1509" y="434.9" font-size="12.5" fill="#50535e" text-anchor="end" textLength="47" lengthAdjust="spacingAndGlyphs">1.075000</text><text x="1509" y="482.6" font-size="12.5" fill="#50535e" text-anchor="end" textLength="47" lengthAdjust="spacingAndGlyphs">1.070000</text><text x="1509" y="530.3" font-size="12.5" fill="#50535e" text-anchor="end" textLength="47" lengthAdjust="spacingAndGlyphs">1.065000</text><text x="1509" y="578.0" font-size="12.5" fill="#50535e" text-anchor="end" textLength="47" lengthAdjust="spacingAndGlyphs">1.060000</text><text x="1509" y="625.7" font-size="12.5" fill="#50535e" text-anchor="end" textLength="47" lengthAdjust="spacingAndGlyphs">1.055000</text><text x="1509" y="673.4" font-size="12.5" fill="#50535e" text-anchor="end" textLength="47" lengthAdjust="spacingAndGlyphs">1.050000</text><rect x="1457.5" y="31.5" width="57" height="26" rx="5" fill="#fff" stroke="#e0e3eb"/><text x="1466.3" y="49" font-size="12.5" fill="#131722" textLength="21" lengthAdjust="spacingAndGlyphs">NZD</text><path d="M1453,134 h58.5 a3,3 0 0 1 3,3 v11 a3,3 0 0 1 -3,3 h-58.5 z" fill="#131722"/><text x="1509" y="147" font-size="12.5" font-weight="bold" fill="#fff" text-anchor="end" textLength="47" lengthAdjust="spacingAndGlyphs">1.105250</text><path d="M1402,235 h50 v17 h-50 a3,3 0 0 1 -3,-3 v-11 a3,3 0 0 1 3,-3 z" fill="#26a69a"/><text x="1447.5" y="248.0" font-size="12.5" font-weight="bold" fill="#fff" text-anchor="end" textLength="44" lengthAdjust="spacingAndGlyphs">AUDNZD</text><path d="M1453,235 h58.5 a3,3 0 0 1 3,3 v25 a3,3 0 0 1 -3,3 h-58.5 z" fill="#26a69a"/><text x="1509" y="248" font-size="12.5" font-weight="bold" fill="#fff" text-anchor="end" textLength="47" lengthAdjust="spacingAndGlyphs">1.094680</text><text x="1509" y="262" font-size="12.5" font-weight="normal" fill="#fff" text-anchor="end" textLength="47" lengthAdjust="spacingAndGlyphs">07:42:25</text><path d="M1453,293 h58.5 a3,3 0 0 1 3,3 v11 a3,3 0 0 1 -3,3 h-58.5 z" fill="#000"/><text x="1509" y="306" font-size="12.5" font-weight="bold" fill="#fff" text-anchor="end" textLength="47" lengthAdjust="spacingAndGlyphs">1.088550</text><path d="M1404,381 h48 v16.5 h-48 a3,3 0 0 1 -3,-3 v-10.5 a3,3 0 0 1 3,-3 z" fill="#2b2bff"/><text x="1447.5" y="393.75" font-size="12.5" font-weight="bold" fill="#fff" text-anchor="end" textLength="41.5" lengthAdjust="spacingAndGlyphs">SMA:MA</text><path d="M1453,381 h58.5 a3,3 0 0 1 3,3 v10.5 a3,3 0 0 1 -3,3 h-58.5 z" fill="#2b2bff"/><text x="1509" y="394" font-size="12.5" font-weight="bold" fill="#fff" text-anchor="end" textLength="47" lengthAdjust="spacingAndGlyphs">1.079376</text><path d="M1404,398 h48 v16.5 h-48 a3,3 0 0 1 -3,-3 v-10.5 a3,3 0 0 1 3,-3 z" fill="#f23645"/><text x="1447.5" y="410.75" font-size="12.5" font-weight="bold" fill="#fff" text-anchor="end" textLength="41.5" lengthAdjust="spacingAndGlyphs">SMA:MA</text><path d="M1453,398 h58.5 a3,3 0 0 1 3,3 v10.5 a3,3 0 0 1 -3,3 h-58.5 z" fill="#f23645"/><text x="1509" y="411" font-size="12.5" font-weight="bold" fill="#fff" text-anchor="end" textLength="47" lengthAdjust="spacingAndGlyphs">1.078886</text><path d="M1453,434 h58.5 a3,3 0 0 1 3,3 v11 a3,3 0 0 1 -3,3 h-58.5 z" fill="#000"/><text x="1509" y="447" font-size="12.5" font-weight="bold" fill="#fff" text-anchor="end" textLength="47" lengthAdjust="spacingAndGlyphs">1.073770</text><path d="M1453,604 h58.5 a3,3 0 0 1 3,3 v11 a3,3 0 0 1 -3,3 h-58.5 z" fill="#000"/><text x="1509" y="617" font-size="12.5" font-weight="bold" fill="#fff" text-anchor="end" textLength="47" lengthAdjust="spacingAndGlyphs">1.056020</text><text x="1446.3" y="704" font-size="12.5" fill="#131722" text-anchor="end" textLength="81.6" lengthAdjust="spacingAndGlyphs">Regular Bearish</text><rect x="1453" y="692" width="62" height="17" fill="#fff"/><text x="1461.8" y="704.5" font-size="12.5" fill="#131722" textLength="29" lengthAdjust="spacingAndGlyphs">78.54</text><path d="M1429.3,712 h22.7 v16.5 h-22.7 a3,3 0 0 1 -3,-3 v-10.5 a3,3 0 0 1 3,-3 z" fill="#7e57c2"/><text x="1447.5" y="724.75" font-size="12.5" font-weight="bold" fill="#fff" text-anchor="end" textLength="14.4" lengthAdjust="spacingAndGlyphs">RSI</text><path d="M1453,712 h40 a3,3 0 0 1 3,3 v10.5 a3,3 0 0 1 -3,3 h-40 z" fill="#7e57c2"/><text x="1461.5" y="725" font-size="12.5" font-weight="bold" fill="#fff" textLength="29" lengthAdjust="spacingAndGlyphs">67.10</text><path d="M1375.4,729.5 h76.6 v16 h-76.6 a3,3 0 0 1 -3,-3 v-10 a3,3 0 0 1 3,-3 z" fill="#fde73d"/><text x="1447" y="742" font-size="12.5" fill="#131722" text-anchor="end" textLength="70.3" lengthAdjust="spacingAndGlyphs">RSI-based MA</text><path d="M1453,729.5 h40 a3,3 0 0 1 3,3 v10 a3,3 0 0 1 -3,3 h-40 z" fill="#fde73d"/><text x="1461.5" y="742" font-size="12.5" fill="#131722" textLength="29" lengthAdjust="spacingAndGlyphs">63.21</text><text x="1461.8" y="772" font-size="12.5" fill="#50535e" textLength="29" lengthAdjust="spacingAndGlyphs">40.00</text><rect x="1454" y="769" width="60" height="16" fill="#fff"/><rect x="1363" y="769.5" width="90" height="15.5" fill="#fff"/><text x="1446.3" y="781" font-size="12.5" fill="#131722" text-anchor="end" textLength="77" lengthAdjust="spacingAndGlyphs">Regular Bullish</text><text x="1461.8" y="781.5" font-size="12.5" fill="#131722" textLength="29" lengthAdjust="spacingAndGlyphs">34.53</text><text x="43" y="812" font-size="12.5" font-weight="normal" fill="#50535e" text-anchor="middle" textLength="18.8" lengthAdjust="spacingAndGlyphs">Sep</text><text x="191.5" y="812" font-size="12.5" font-weight="normal" fill="#50535e" text-anchor="middle" textLength="18.3" lengthAdjust="spacingAndGlyphs">Oct</text><text x="347.5" y="812" font-size="12.5" font-weight="normal" fill="#50535e" text-anchor="middle" textLength="19.6" lengthAdjust="spacingAndGlyphs">Nov</text><text x="503.5" y="812" font-size="12.5" font-weight="normal" fill="#50535e" text-anchor="middle" textLength="19.5" lengthAdjust="spacingAndGlyphs">Dec</text><text x="652" y="812" font-size="12.5" font-weight="bold" fill="#50535e" text-anchor="middle" textLength="26.7" lengthAdjust="spacingAndGlyphs">2024</text><text x="814.8" y="812" font-size="12.5" font-weight="normal" fill="#50535e" text-anchor="middle" textLength="18.7" lengthAdjust="spacingAndGlyphs">Feb</text><text x="963.5" y="812" font-size="12.5" font-weight="normal" fill="#50535e" text-anchor="middle" textLength="19.5" lengthAdjust="spacingAndGlyphs">Mar</text><text x="1112.5" y="812" font-size="12.5" font-weight="normal" fill="#50535e" text-anchor="middle" textLength="18.5" lengthAdjust="spacingAndGlyphs">Apr</text><text x="1267.5" y="812" font-size="12.5" font-weight="normal" fill="#50535e" text-anchor="middle" textLength="21" lengthAdjust="spacingAndGlyphs">May</text><text x="1431" y="812" font-size="12.5" font-weight="normal" fill="#50535e" text-anchor="middle" textLength="17" lengthAdjust="spacingAndGlyphs">Jun</text><g fill="#131722"><path d="M9.9,833.9 H17.1 V844 H13.5 V837.9 H9.9 Z"/><circle cx="21.1" cy="835.8" r="1.9"/><path d="M24.6,833.9 H29.7 L26.4,844 H21.5 Z"/></g><text x="33" y="844" font-size="13.5" fill="#131722" textLength="70" lengthAdjust="spacingAndGlyphs">TradingView</text><defs><filter id="wb" x="-5%" y="-5%" width="110%" height="110%"><feGaussianBlur stdDeviation="0.9"/></filter><mask id="wm" maskUnits="userSpaceOnUse" x="1270" y="750" width="259" height="107"><rect x="1270" y="750" width="259" height="107" fill="#fff"/><g transform="matrix(1,0,-0.25,1,205.0,0)" fill="#000"><path d="M1281,765h11v15h-11zM1294,766h40v8h-40zM1285,793h11.5v7h-11.5zM1281.7,819.0L1290.0,819.0L1294.7,797.0L1287.3,797.0zM1342,765h50v8h-50zM1344.5,773h9.5v13h-9.5zM1342.5,786h42.5v8h-42.5zM1385,765h8v54h-8zM1342,802h39v7h-39zM1368,812h17v7h-17zM1388,766h7v39h-7zM1401,772h7v33h-7zM1395,766h13v6h-13zM1388.0,805.0L1395.0,805.0L1388.0,819.0L1381.0,819.0zM1401.0,805.0L1408.0,805.0L1413.0,818.0L1406.0,818.0zM1412,777h33v7h-33zM1426,765h7v47h-7zM1418,812h15v7h-15zM1435.5,786.0L1443.5,786.0L1435.0,812.0L1427.0,812.0zM1452.2,765.0L1461.2,765.0L1455.2,777.0L1467.2,777.0L1470.8,771.0L1478.8,771.0L1469.2,793.0L1458.2,793.0L1462.0,784.0L1450.0,784.0zM1461,795h53v7h-53zM1483,802h7v10h-7zM1462,812h53v7h-53zM1484,765h30v8h-30zM1506.2,773.0L1515.2,773.0L1492.2,793.0L1482.2,793.0zM1483.5,778.0L1491.5,778.0L1515.2,793.0L1506.2,793.0z"/><path d="M1296.5,774h38.5v45h-38.5zM1308,784h22v8h-22zM1306,800h23v11h-23z" fill-rule="evenodd"/></g></mask></defs><g mask="url(#wm)"><g transform="translate(1.6,1.8)" filter="url(#wb)" opacity="0.8"><g transform="matrix(1,0,-0.25,1,205.0,0)" fill="#333"><path d="M1281,765h11v15h-11zM1294,766h40v8h-40zM1285,793h11.5v7h-11.5zM1281.7,819.0L1290.0,819.0L1294.7,797.0L1287.3,797.0zM1342,765h50v8h-50zM1344.5,773h9.5v13h-9.5zM1342.5,786h42.5v8h-42.5zM1385,765h8v54h-8zM1342,802h39v7h-39zM1368,812h17v7h-17zM1388,766h7v39h-7zM1401,772h7v33h-7zM1395,766h13v6h-13zM1388.0,805.0L1395.0,805.0L1388.0,819.0L1381.0,819.0zM1401.0,805.0L1408.0,805.0L1413.0,818.0L1406.0,818.0zM1412,777h33v7h-33zM1426,765h7v47h-7zM1418,812h15v7h-15zM1435.5,786.0L1443.5,786.0L1435.0,812.0L1427.0,812.0zM1452.2,765.0L1461.2,765.0L1455.2,777.0L1467.2,777.0L1470.8,771.0L1478.8,771.0L1469.2,793.0L1458.2,793.0L1462.0,784.0L1450.0,784.0zM1461,795h53v7h-53zM1483,802h7v10h-7zM1462,812h53v7h-53zM1484,765h30v8h-30zM1506.2,773.0L1515.2,773.0L1492.2,793.0L1482.2,793.0zM1483.5,778.0L1491.5,778.0L1515.2,793.0L1506.2,793.0z"/><path d="M1296.5,774h38.5v45h-38.5zM1308,784h22v8h-22zM1306,800h23v11h-23z" fill-rule="evenodd"/></g></g></g><g transform="matrix(1,0,-0.25,1,205.0,0)" fill="#fff" fill-opacity="0.9"><path d="M1281,765h11v15h-11zM1294,766h40v8h-40zM1285,793h11.5v7h-11.5zM1281.7,819.0L1290.0,819.0L1294.7,797.0L1287.3,797.0zM1342,765h50v8h-50zM1344.5,773h9.5v13h-9.5zM1342.5,786h42.5v8h-42.5zM1385,765h8v54h-8zM1342,802h39v7h-39zM1368,812h17v7h-17zM1388,766h7v39h-7zM1401,772h7v33h-7zM1395,766h13v6h-13zM1388.0,805.0L1395.0,805.0L1388.0,819.0L1381.0,819.0zM1401.0,805.0L1408.0,805.0L1413.0,818.0L1406.0,818.0zM1412,777h33v7h-33zM1426,765h7v47h-7zM1418,812h15v7h-15zM1435.5,786.0L1443.5,786.0L1435.0,812.0L1427.0,812.0zM1452.2,765.0L1461.2,765.0L1455.2,777.0L1467.2,777.0L1470.8,771.0L1478.8,771.0L1469.2,793.0L1458.2,793.0L1462.0,784.0L1450.0,784.0zM1461,795h53v7h-53zM1483,802h7v10h-7zM1462,812h53v7h-53zM1484,765h30v8h-30zM1506.2,773.0L1515.2,773.0L1492.2,793.0L1482.2,793.0zM1483.5,778.0L1491.5,778.0L1515.2,793.0L1506.2,793.0z"/><path d="M1296.5,774h38.5v45h-38.5zM1308,784h22v8h-22zM1306,800h23v11h-23z" fill-rule="evenodd"/></g><text x="1294.5 1320.5 1349.5 1370.5 1393.5 1423.5 1451 1469.5 1495.5" y="852.5" font-size="34" font-weight="bold" font-style="italic" fill="#444" fill-opacity="0.65" stroke="#444" stroke-opacity="0.65" stroke-width="1.3" transform="translate(1.3,1.5)" filter="url(#wb)">zzrt01.cn</text><text x="1294.5 1320.5 1349.5 1370.5 1393.5 1423.5 1451 1469.5 1495.5" y="852.5" font-size="34" font-weight="bold" font-style="italic" fill="#a6b9f5" stroke="#a6b9f5" stroke-width="1.3" stroke-linejoin="round">zzrt01.cn</text></svg></body></html>
